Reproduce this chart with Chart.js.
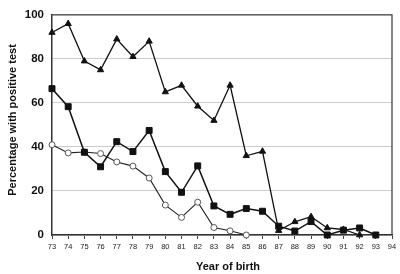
<!DOCTYPE html>
<html><head><meta charset="utf-8">
<script src="https://cdn.jsdelivr.net/npm/chart.js@4/dist/chart.umd.min.js"></script>
<style>html,body{margin:0;padding:0;background:#fff}#w{width:400px;height:274px}</style>
</head><body><div id="w"><canvas id="c"></canvas></div>
<script>
const years = [73,74,75,76,77,78,79,80,81,82,83,84,85,86,87,88,89,90,91,92,93];
const triangleSeries = [92,96,79,75,89,81,88,65,68,58.5,52,68,36,38,2,6,8.3,3.2,2.5,0,null];
const squareSeries = [66.5,58.3,37.6,31,42.4,37.9,47.5,28.8,19.4,31.4,13.2,9.4,12,10.8,4,1.8,6.1,0,2.2,3.2,0];
const circleSeries = [41,37.3,37.7,37,33.2,31.3,25.9,13.6,8,14.9,3.4,1.9,0,null,null,null,null,null,null,null,null];
const xTicks = {min:73, max:94, step:1};
const yTicks = {min:0, max:100, step:20};
const yTitle = 'Percentage with positive test';
const xTitle = 'Year of birth';

function pts(arr){ return years.map((y,i)=>({x:y,y:arr[i]})).filter(p=>p.y!==null); }

const framePlugin = {
  id:'frame',
  afterDraw(chart){
    const {ctx, chartArea:a} = chart;
    ctx.save();
    ctx.strokeStyle='#444'; ctx.lineWidth=1.3;
    ctx.beginPath();
    ctx.moveTo(a.left,a.top); ctx.lineTo(a.right,a.top); ctx.lineTo(a.right,a.bottom);
    ctx.stroke();
    ctx.fillStyle='#111';
    ctx.font='bold 11px "Liberation Sans", Arial, sans-serif';
    ctx.textAlign='center'; ctx.textBaseline='middle';
    ctx.fillText(xTitle, 228, 267);
    ctx.translate(13, 120);
    ctx.rotate(-Math.PI/2);
    ctx.fillText(yTitle, 0, 0);
    ctx.restore();
  }
};

new Chart(document.getElementById('c'), {
  type:'line',
  data:{ datasets:[
    {data:pts(triangleSeries), clip:false, borderColor:'#111', borderWidth:1.3, pointStyle:'triangle', pointRadius:3.6, pointBackgroundColor:'#111', pointBorderColor:'#111', pointBorderWidth:1, tension:0},
    {data:pts(squareSeries), clip:false, borderColor:'#111', borderWidth:1.5, pointStyle:'rect', pointRadius:4.2, pointBackgroundColor:'#111', pointBorderColor:'#111', pointBorderWidth:1, tension:0},
    {data:pts(circleSeries), clip:false, borderColor:'#222', borderWidth:1.1, pointStyle:'circle', pointRadius:3, pointBackgroundColor:'#fff', pointBorderColor:'#555', pointBorderWidth:1, tension:0}
  ]},
  options:{
    responsive:true, maintainAspectRatio:false, animation:false,
    layout:{padding:{top:6, right:8, left:0, bottom:0}},
    plugins:{legend:{display:false}, tooltip:{enabled:false}},
    scales:{
      x:{type:'linear', min:xTicks.min, max:xTicks.max,
        ticks:{stepSize:xTicks.step, autoSkip:false, maxRotation:0, color:'#222', padding:3,
          font:{family:'"Liberation Sans", Arial, sans-serif', size:7.5}},
        grid:{display:true, drawOnChartArea:false, drawTicks:true, tickLength:4, color:'#444'},
        border:{display:true, color:'#333', width:1.5},
        afterFit(s){ s.height = 39; }
      },
      y:{min:yTicks.min, max:yTicks.max,
        ticks:{stepSize:yTicks.step, color:'#111', padding:8,
          font:{family:'"Liberation Sans", Arial, sans-serif', size:11.5, weight:'bold'}},
        grid:{display:true, drawTicks:false, color:'#cccccc', lineWidth:1},
        border:{display:true, color:'#333', width:1.5, dash:[]},
        afterFit(s){ s.width = 52; }
      }
    }
  },
  plugins:[framePlugin]
});
</script></body></html>
